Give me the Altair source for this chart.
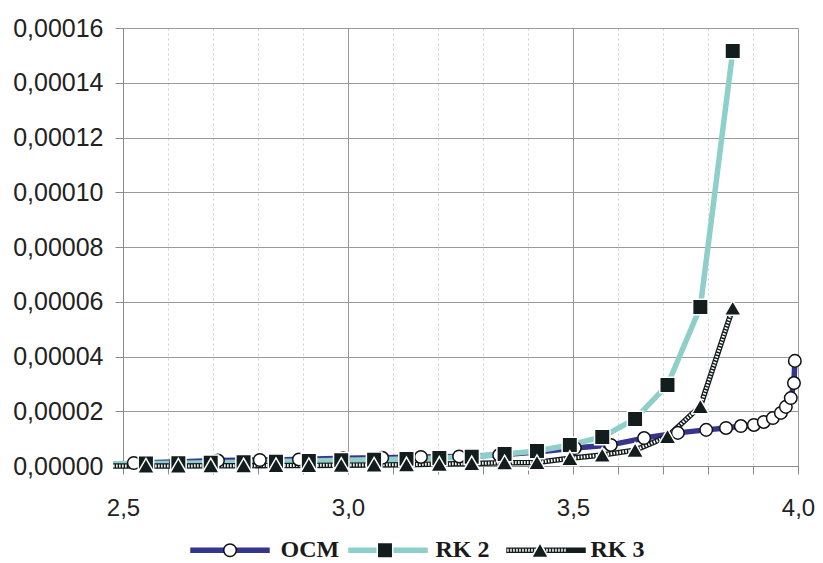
import altair as alt
import pandas as pd

series_names = ["OCM", "RK 2", "RK 3"]

ocm_x = [2.524, 2.618, 2.711, 2.804, 2.891, 2.989, 3.076, 3.162, 3.247, 3.336,
         3.420, 3.504, 3.584, 3.658, 3.733, 3.796, 3.840, 3.873, 3.902, 3.924,
         3.944, 3.962, 3.973, 3.984, 3.991, 3.993]
ocm_y = [0.11e-5, 0.15e-5, 0.20e-5, 0.22e-5, 0.24e-5, 0.28e-5, 0.30e-5, 0.33e-5, 0.35e-5, 0.40e-5,
         0.51e-5, 0.66e-5, 0.77e-5, 1.02e-5, 1.21e-5, 1.32e-5, 1.39e-5, 1.46e-5, 1.50e-5, 1.61e-5,
         1.75e-5, 1.94e-5, 2.16e-5, 2.48e-5, 3.03e-5, 3.84e-5]

rk2_x = [2.478, 2.551, 2.623, 2.695, 2.768, 2.840, 2.913, 2.985, 3.058, 3.130,
         3.203, 3.275, 3.348, 3.420, 3.493, 3.565, 3.638, 3.710, 3.783, 3.855]
rk2_y = [0.08e-5, 0.09e-5, 0.10e-5, 0.12e-5, 0.14e-5, 0.16e-5, 0.18e-5, 0.21e-5, 0.23e-5, 0.26e-5,
         0.29e-5, 0.34e-5, 0.44e-5, 0.55e-5, 0.77e-5, 1.06e-5, 1.72e-5, 2.96e-5, 5.81e-5, 15.16e-5]

rk3_x = [2.478, 2.551, 2.623, 2.695, 2.768, 2.840, 2.913, 2.985, 3.058, 3.130,
         3.203, 3.275, 3.348, 3.420, 3.493, 3.565, 3.638, 3.710, 3.783, 3.855]
rk3_y = [0.00e-5, 0.00e-5, 0.00e-5, 0.01e-5, 0.01e-5, 0.02e-5, 0.02e-5, 0.03e-5, 0.04e-5, 0.05e-5,
         0.07e-5, 0.09e-5, 0.12e-5, 0.13e-5, 0.28e-5, 0.40e-5, 0.58e-5, 1.08e-5, 2.18e-5, 5.77e-5]

x_ticks = [2.5, 2.6, 2.7, 2.8, 2.9, 3.0, 3.1, 3.2, 3.3, 3.4, 3.5, 3.6, 3.7, 3.8, 3.9, 4.0]
y_ticks = [0, 0.00002, 0.00004, 0.00006, 0.00008, 0.0001, 0.00012, 0.00014, 0.00016]

rows = []
for name, xs, ys in [("OCM", ocm_x, ocm_y), ("RK 2", rk2_x, rk2_y), ("RK 3", rk3_x, rk3_y)]:
    for i, (xv, yv) in enumerate(zip(xs, ys)):
        rows.append({"series": name, "x": xv, "y": yv, "idx": i})
df = pd.DataFrame(rows)

NAVY = "#35358f"
TEAL = "#8ecfca"
DARK = "#131d1d"
GRID = "#9a9a9a"
TXT = "#222222"

# marker size (legend symbol layout is based on it)
S_MARK = 6972.25
r = 0.15
circle_path = f"M{r},0A{r},{r},0,1,1,{-r},0A{r},{r},0,1,1,{r},0Z"
square_path = "M-0.185,-0.185H0.185V0.185H-0.185Z"
tri_path = "M0,-0.18L0.205,0.175H-0.205Z"

major = "round(datum.value*10) % 5 == 0"

x_axis = alt.Axis(
    values=x_ticks,
    labelExpr=f"{major} ? replace(format(datum.value, '.1f'), '.', ',') : ''",
    title=None,
    grid=True,
    gridColor={"condition": {"test": major, "value": GRID}, "value": "#cfcfcf"},
    gridDash={"condition": {"test": major, "value": []}, "value": [2, 3]},
    gridWidth=1,
    tickSize=8,
    tickColor="#8a8a8a",
    domainColor="#8a8a8a",
    labelFont="Liberation Sans",
    labelFontSize=24,
    labelColor=TXT,
    labelPadding=22,
    labelFlush=False,
    labelOverlap=False,
)
y_axis = alt.Axis(
    values=y_ticks,
    labelExpr="replace(format(datum.value, '.5f'), '.', ',')",
    title=None,
    grid=True,
    gridColor=GRID,
    gridWidth=1,
    tickSize=8,
    tickColor="#8a8a8a",
    domainColor="#8a8a8a",
    labelFont="Liberation Sans",
    labelFontSize=25,
    labelColor=TXT,
    labelPadding=12,
    labelOverlap=False,
)

x_enc = alt.X("x:Q", scale=alt.Scale(domain=[2.5, 4.0], nice=False, zero=False), axis=x_axis)
y_enc = alt.Y("y:Q", scale=alt.Scale(domain=[0, 0.00016], nice=False), axis=y_axis)

common = dict(
    orient="none", legendX=64.5, legendY=479.5, direction="horizontal",
    title=None, padding=0, gridAlign="all",
    labelFont="Liberation Serif", labelFontSize=24, labelFontWeight="bold",
    labelColor="#1a1a1a", labelLimit=300,
)

base = alt.Chart(df)

# legend of the line strokes (no labels of its own)
lines = base.mark_line(strokeWidth=5.5, strokeJoin="round").encode(
    x=x_enc, y=y_enc, order="idx:Q",
    color=alt.Color(
        "series:N",
        scale=alt.Scale(domain=series_names, range=[NAVY, TEAL, DARK]),
        legend=alt.Legend(symbolType="M-1,0H1", symbolSize=6320.25, symbolStrokeWidth=5.5,
                          labelExpr="''", labelOffset=0, columnPadding=55, **common),
    ),
)

hatch = base.transform_filter("datum.series == 'RK 3'").mark_line(
    strokeWidth=3, strokeDash=[1.5, 1.5]
).encode(
    x=x_enc, y=y_enc, order="idx:Q",
    color=alt.Color(
        "series:N",
        scale=alt.Scale(domain=series_names, range=["transparent", "transparent", "#ffffff"]),
        legend=alt.Legend(symbolType="M-0.97,0H0.97", symbolSize=6724, symbolStrokeWidth=3,
                          symbolDash=[1.5, 1.5], labelExpr="''", labelOffset=0,
                          columnPadding=55, **common),
    ),
)

leg3 = alt.Legend(symbolSize=S_MARK, symbolStrokeWidth=1.5, labelOffset=8,
                  columnPadding=3, **common)

points = base.transform_filter("datum.x >= 2.5").mark_point(
    filled=True, size=S_MARK, strokeWidth=1.5, opacity=1
).encode(
    x=x_enc, y=y_enc,
    shape=alt.Shape("series:N", scale=alt.Scale(domain=series_names,
                    range=[circle_path, square_path, tri_path]), legend=leg3),
    fill=alt.Fill("series:N", scale=alt.Scale(domain=series_names,
                  range=["#ffffff", DARK, DARK]), legend=leg3),
    stroke=alt.Stroke("series:N", scale=alt.Scale(domain=series_names,
                      range=["#111111", "#ffffff", "#ffffff"]), legend=leg3),
)

chart = alt.layer(lines, hatch, points).resolve_scale(
    color="independent"
).resolve_legend(
    color="independent", shape="independent", fill="independent", stroke="independent"
).properties(
    width=675, height=438,
    padding={"left": 115, "top": 20, "right": 17, "bottom": 97},
    autosize=alt.AutoSizeParams(type="none"),
    background="#ffffff",
).configure_view(strokeWidth=0)

chart.save("out.html", embed_options={"renderer": "svg", "actions": False})
